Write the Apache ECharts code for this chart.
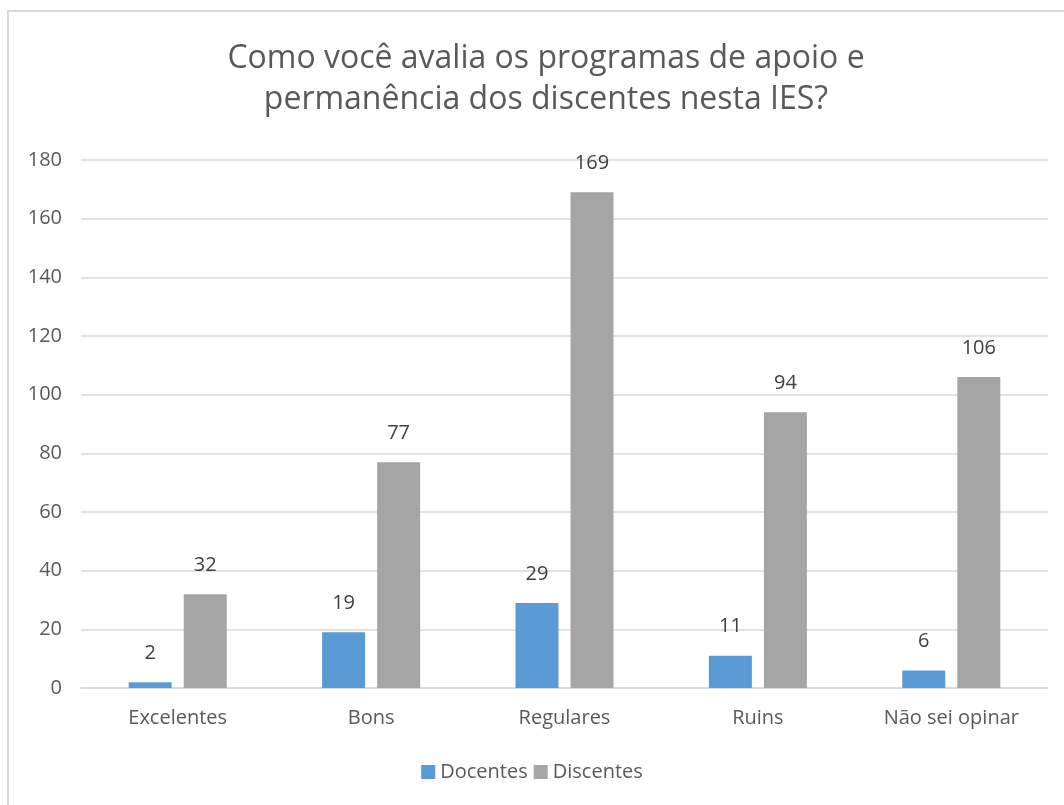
<!DOCTYPE html>
<html>
<head>
<meta charset="utf-8">
<script src="https://cdn.jsdelivr.net/npm/echarts@6/dist/echarts.min.js"></script>
<style>
  html, body { margin: 0; padding: 0; background: #fff; }
  #chart { width: 1064px; height: 805px; }
</style>
</head>
<body>
<div id="chart"></div>
<script>
const categories = ['Excelentes', 'Bons', 'Regulares', 'Ruins', 'Não sei opinar'];
const docentes = [2, 19, 29, 11, 6];
const discentes = [32, 77, 169, 94, 106];

const chart = echarts.init(document.getElementById('chart'));
const font = '"Open Sans", "Noto Sans", sans-serif';

const labelStyle = {
  show: true,
  position: 'top',
  distance: 19,
  color: '#404040',
  fontSize: 20,
  fontFamily: font
};

chart.setOption({
  animation: false,
  backgroundColor: '#fff',
  graphic: [{
    type: 'rect',
    shape: { x: 8, y: 11, width: 1070, height: 810 },
    style: { fill: 'none', stroke: '#d9d9d9', lineWidth: 2 },
    silent: true
  }],
  title: {
    text: 'Como você avalia os programas de apoio e\npermanência dos discentes nesta IES?',
    left: 541,
    top: 33,
    textAlign: 'center',
    textStyle: {
      color: '#595959',
      fontSize: 32,
      fontWeight: 'normal',
      fontFamily: font,
      lineHeight: 41
    }
  },
  legend: {
    data: ['Docentes', 'Discentes'],
    bottom: 18,
    left: 'center',
    itemWidth: 14,
    itemHeight: 14,
    itemGap: 6,
    icon: 'rect',
    textStyle: { color: '#595959', fontSize: 20, fontFamily: font }
  },
  grid: { left: 81, right: 16, top: 160, bottom: 117 },
  xAxis: {
    type: 'category',
    data: categories,
    axisLine: { lineStyle: { color: '#d9d9d9', width: 1.5 } },
    axisTick: { show: false },
    axisLabel: { color: '#595959', fontSize: 20, fontFamily: font, margin: 20 }
  },
  yAxis: {
    type: 'value',
    min: 0,
    max: 180,
    interval: 20,
    axisLine: { show: false },
    axisTick: { show: false },
    splitLine: { lineStyle: { color: '#d9d9d9', width: 1.5 } },
    axisLabel: { color: '#595959', fontSize: 20, fontFamily: font, margin: 19 }
  },
  series: [
    {
      name: 'Docentes',
      type: 'bar',
      data: docentes,
      barWidth: 43,
      barGap: '28%',
      itemStyle: { color: '#5B9BD5' },
      label: labelStyle
    },
    {
      name: 'Discentes',
      type: 'bar',
      data: discentes,
      barWidth: 43,
      itemStyle: { color: '#A5A5A5' },
      label: labelStyle
    }
  ]
});
</script>
</body>
</html>
